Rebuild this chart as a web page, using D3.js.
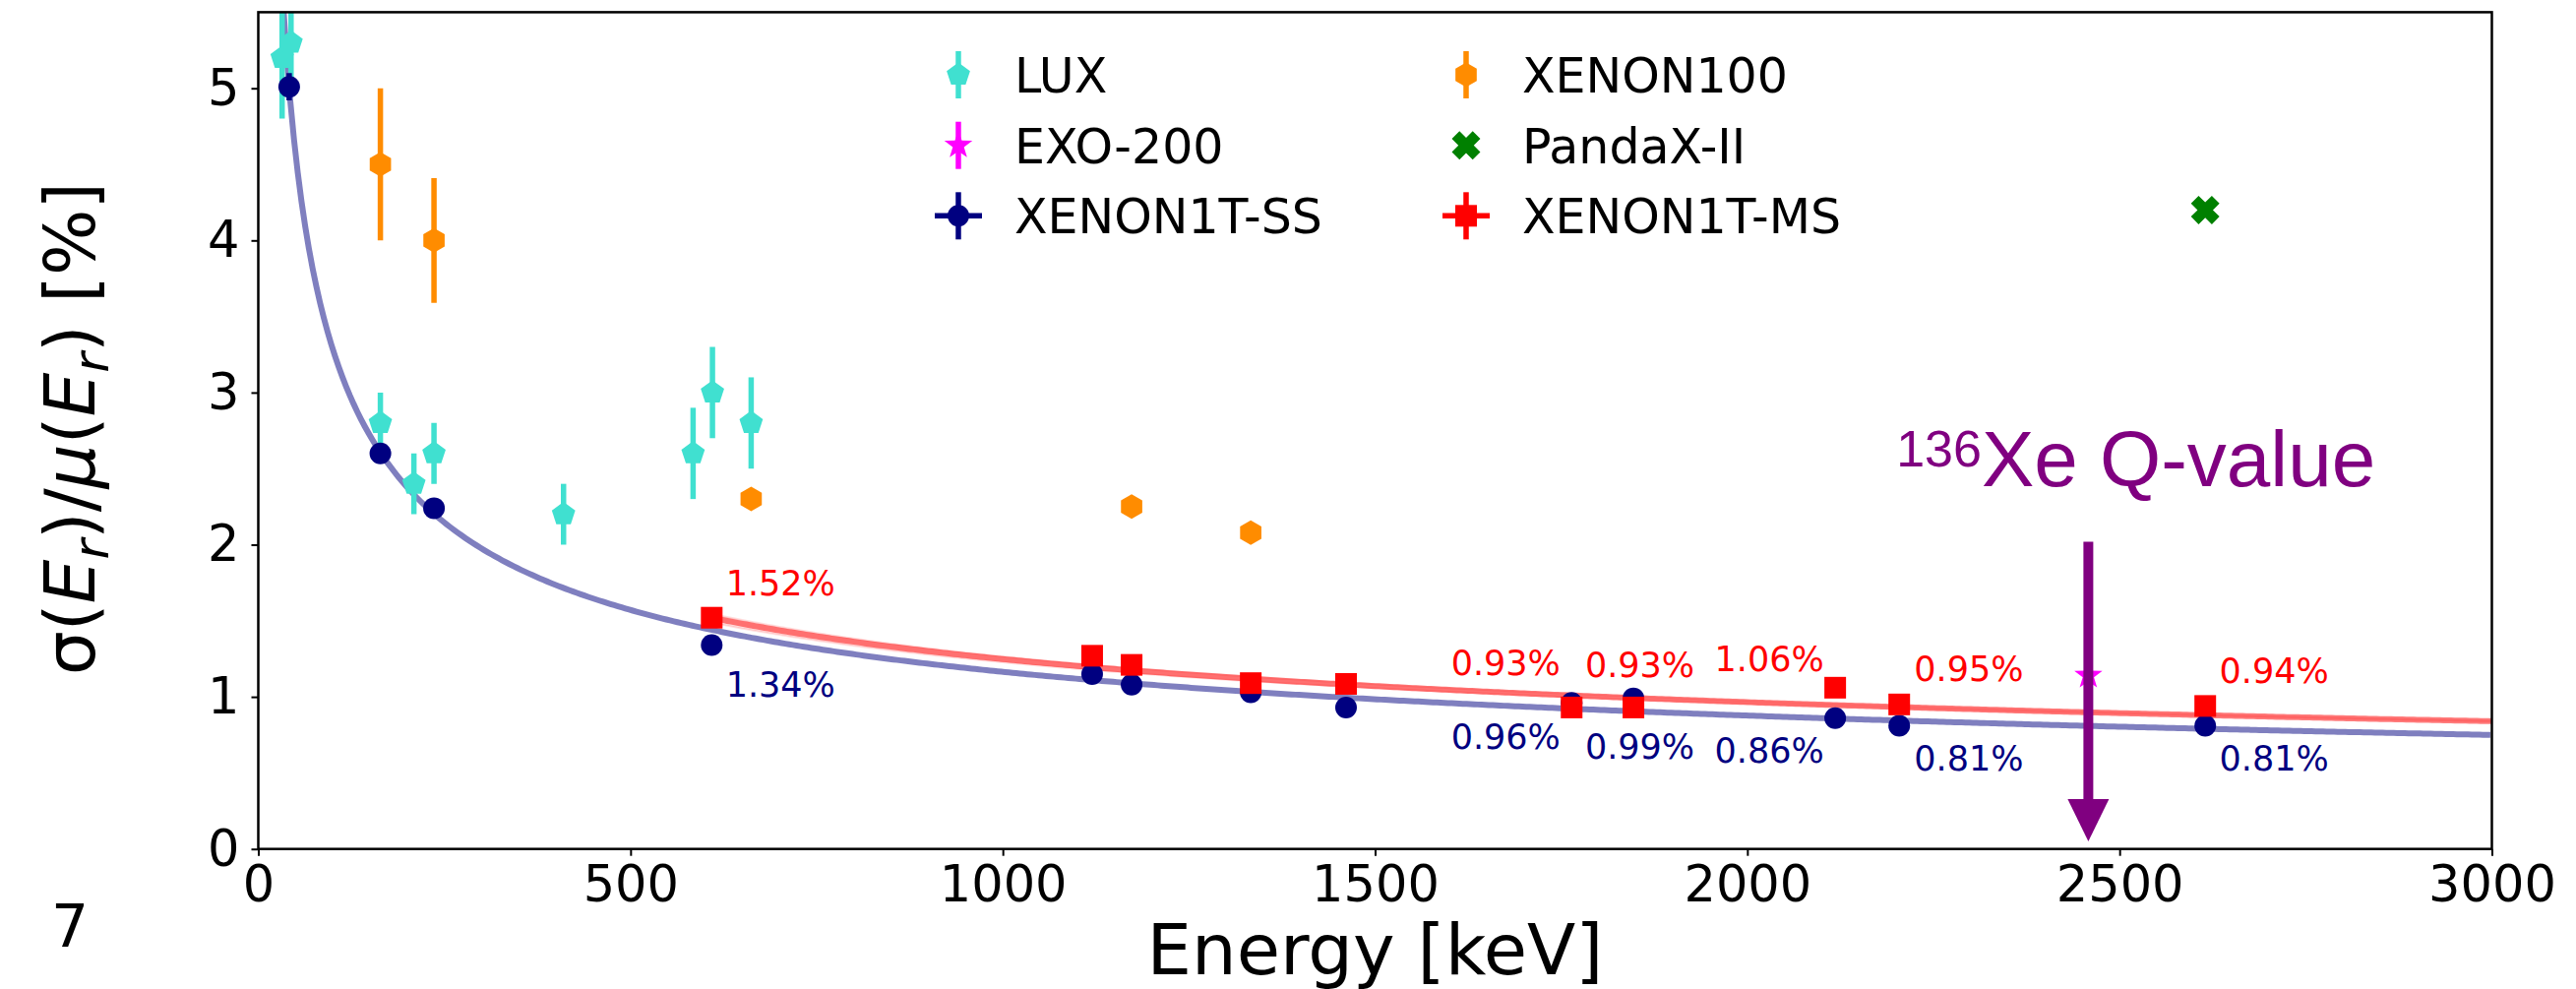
<!DOCTYPE html>
<html>
<head>
<meta charset="utf-8">
<script src="https://cdn.jsdelivr.net/npm/d3@7"></script>
<style>
  body { margin: 0; background: #fff; }
  text { font-family: "DejaVu Sans", sans-serif; }
</style>
</head>
<body>
<script>
// energies in keV, resolution in %
var luxE = [32, 44, 164, 209, 236, 410, 584, 610, 662];
var luxV = [5.2, 5.3, 2.8, 2.4, 2.6, 2.2, 2.6, 3.0, 2.8];
var luxErr = [0.4, 0.3, 0.2, 0.2, 0.2, 0.2, 0.3, 0.3, 0.3];

var x100E = [164, 236, 662, 1173, 1333];
var x100V = [4.5, 4.0, 2.3, 2.25, 2.08];
var x100Err = [0.5, 0.41, 0.02, 0.02, 0.02];

var exoE = [2458];
var exoV = [1.14];
var exoErr = [0.03];

var pandaE = [2615];
var pandaV = [4.2];

var ssE = [41.5, 164, 236, 609, 1120, 1173, 1333, 1461, 1764, 1847, 2118, 2204, 2615];
var ssV = [5.01, 2.60, 2.24, 1.34, 1.15, 1.08, 1.03, 0.93, 0.96, 0.99, 0.86, 0.81, 0.81];
var ssErr = [0.09, 0.02, 0.02, 0.02, 0.01, 0.01, 0.01, 0.01, 0.01, 0.01, 0.01, 0.01, 0.01];

var msE = [609, 1120, 1173, 1333, 1461, 1764, 1847, 2118, 2204, 2615];
var msV = [1.52, 1.27, 1.21, 1.09, 1.085, 0.93, 0.93, 1.06, 0.95, 0.94];

// fits: a/sqrt(E) + b
var fitSS = [31.03, 0.183];
var fitMS = [30.55, 0.282];
var fitMSlo = [29.3, 0.300];
var fitMShi = [31.5, 0.270];

// percentage annotations
var msLabels = ['1.52%', '0.93%', '0.93%', '1.06%', '0.95%', '0.94%'];
var ssLabels = ['1.34%', '0.96%', '0.99%', '0.86%', '0.81%', '0.81%'];
var labelE = [628, 1602, 1782, 1956, 2224, 2634];
var msLabelV = [1.667, 1.140, 1.133, 1.169, 1.102, 1.090];
var ssLabelV = [0.999, 0.658, 0.591, 0.566, 0.513, 0.513];

var qValue = 2458;
var xTicks = [0, 500, 1000, 1500, 2000, 2500, 3000];
var yTicks = [0, 1, 2, 3, 4, 5];

var W = 2618, H = 1005;
var pLeft = 262.5, pRight = 2532.5, pTop = 12.4, pBottom = 862.7;

var x = d3.scaleLinear().domain([0, 3000]).range([pLeft, pRight]);
var y = d3.scaleLinear().domain([0, 5.5]).range([pBottom, pTop]);

var svg = d3.select("body").append("svg")
    .attr("width", W)
    .attr("height", H);

svg.append("rect").attr("width", W).attr("height", H).attr("fill", "#fff");

svg.append("clipPath").attr("id", "plotclip")
  .append("rect")
    .attr("x", pLeft).attr("y", pTop)
    .attr("width", pRight - pLeft).attr("height", pBottom - pTop);

var plot = svg.append("g").attr("clip-path", "url(#plotclip)");

function fitLine(p, e0) {
    return d3.range(e0, 3001, 5).map(function(e) { return [e, p[0] / Math.sqrt(e) + p[1]]; });
}
var line = d3.line().x(function(d) { return x(d[0]); }).y(function(d) { return y(d[1]); });

// MS uncertainty band
var lo = fitLine(fitMSlo, 600), hi = fitLine(fitMShi, 600);
var band = d3.area()
    .x(function(d) { return x(d[0]); })
    .y0(function(d, i) { return y(lo[i][1]); })
    .y1(function(d) { return y(d[1]); });
plot.append("path").datum(hi).attr("d", band)
    .attr("fill", "#ff0000").attr("fill-opacity", 0.12)
    .attr("stroke", "#ff0000").attr("stroke-opacity", 0.12).attr("stroke-width", 2);

plot.append("path").datum(fitLine(fitSS, 28)).attr("d", line)
    .attr("fill", "none").attr("stroke", "#000080").attr("stroke-opacity", 0.5).attr("stroke-width", 6);
plot.append("path").datum(fitLine(fitMS, 600)).attr("d", line)
    .attr("fill", "none").attr("stroke", "#ff0000").attr("stroke-opacity", 0.5).attr("stroke-width", 6);

// marker shapes
function poly(n, r, rot) {
    var p = [];
    for (var i = 0; i < n; i++) {
        var a = rot + i * 2 * Math.PI / n;
        p.push([r * Math.sin(a), -r * Math.cos(a)]);
    }
    return "M" + p.map(function(q) { return q.join(","); }).join("L") + "Z";
}
function star(ro, ri) {
    var p = [];
    for (var i = 0; i < 10; i++) {
        var r = i % 2 ? ri : ro, a = i * Math.PI / 5;
        p.push([r * Math.sin(a), -r * Math.cos(a)]);
    }
    return "M" + p.map(function(q) { return q.join(","); }).join("L") + "Z";
}
function xMark(L, w) {
    var c = [[w, -L], [w, -w], [L, -w], [L, w], [w, w], [w, L], [-w, L], [-w, w], [-L, w], [-L, -w], [-w, -w], [-w, -L]];
    var s = Math.SQRT1_2;
    return "M" + c.map(function(q) { return [(q[0] - q[1]) * s, (q[0] + q[1]) * s].join(","); }).join("L") + "Z";
}
var shapes = {
    pent: poly(5, 12.5, 0),
    hex: poly(6, 12.5, 0),
    star: star(15, 6),
    circ: d3.symbol(d3.symbolCircle, Math.PI * 11 * 11)(),
    sq: d3.symbol(d3.symbolSquare, 22 * 22)(),
    x: xMark(15, 5.5)
};

function series(E, V, err, shape, color) {
    var g = plot.append("g");
    if (err) {
        g.selectAll("line").data(E).enter().append("line")
            .attr("x1", function(d) { return x(d); })
            .attr("x2", function(d) { return x(d); })
            .attr("y1", function(d, i) { return y(V[i] - err[i]); })
            .attr("y2", function(d, i) { return y(V[i] + err[i]); })
            .attr("stroke", color).attr("stroke-width", 5.5);
    }
    g.selectAll("path").data(E).enter().append("path")
        .attr("d", shapes[shape])
        .attr("transform", function(d, i) { return "translate(" + x(d) + "," + y(V[i]) + ")"; })
        .attr("fill", color);
}

series(luxE, luxV, luxErr, "pent", "#40e0d0");
series(x100E, x100V, x100Err, "hex", "#ff8c00");
series(exoE, exoV, exoErr, "star", "#ff00ff");
series(ssE, ssV, ssErr, "circ", "#000080");
series(pandaE, pandaV, null, "x", "#008000");
series(msE, msV, null, "sq", "#ff0000");

// percentage labels
svg.append("g").selectAll("text").data(msLabels).enter().append("text")
    .attr("x", function(d, i) { return x(labelE[i]); })
    .attr("y", function(d, i) { return y(msLabelV[i]); })
    .attr("fill", "#ff0000").style("font-size", "35px").text(function(d) { return d; });
svg.append("g").selectAll("text").data(ssLabels).enter().append("text")
    .attr("x", function(d, i) { return x(labelE[i]); })
    .attr("y", function(d, i) { return y(ssLabelV[i]); })
    .attr("fill", "#000080").style("font-size", "35px").text(function(d) { return d; });

// Q-value arrow
var purple = "#800080";
svg.append("line")
    .attr("x1", x(qValue)).attr("x2", x(qValue))
    .attr("y1", y(2.02)).attr("y2", y(0.05) - 40)
    .attr("stroke", purple).attr("stroke-width", 10);
svg.append("path")
    .attr("d", "M" + (x(qValue) - 21) + "," + (y(0.05) - 43) + "L" + (x(qValue) + 21) + "," + (y(0.05) - 43) + "L" + x(qValue) + "," + y(0.05) + "Z")
    .attr("fill", purple);
var qt = svg.append("text")
    .attr("x", x(2200)).attr("y", y(2.383))
    .attr("fill", purple)
    .style("font-family", "'Liberation Sans', Arial, sans-serif")
    .style("font-size", "80px");
qt.append("tspan").text("136").style("font-size", "52px").attr("dy", "-20");
qt.append("tspan").text("Xe Q-value").attr("dy", "20");

// axes
var xAxis = d3.axisBottom(x).tickValues(xTicks).tickFormat(d3.format("d"))
    .tickSize(7).tickSizeOuter(0).tickPadding(10);
var yAxis = d3.axisLeft(y).tickValues(yTicks).tickFormat(d3.format("d"))
    .tickSize(7).tickSizeOuter(0).tickPadding(12);

var gx = svg.append("g").attr("transform", "translate(0," + pBottom + ")").call(xAxis);
var gy = svg.append("g").attr("transform", "translate(" + pLeft + ",0)").call(yAxis);
[gx, gy].forEach(function(g) {
    g.select(".domain").remove();
    g.selectAll(".tick line").attr("stroke", "#000").attr("stroke-width", 2);
    g.selectAll(".tick text").attr("fill", "#000")
        .style("font-family", "'DejaVu Sans', sans-serif").style("font-size", "51px");
});

svg.append("rect")
    .attr("x", pLeft).attr("y", pTop)
    .attr("width", pRight - pLeft).attr("height", pBottom - pTop)
    .attr("fill", "none").attr("stroke", "#000").attr("stroke-width", 2.5);

// axis labels
svg.append("text")
    .attr("x", (pLeft + pRight) / 2).attr("y", 990)
    .attr("text-anchor", "middle")
    .style("font-size", "72px")
    .text("Energy [keV]");

var yl = svg.append("text")
    .attr("transform", "translate(96," + ((pTop + pBottom) / 2 - 2) + ") rotate(-90)")
    .attr("text-anchor", "middle")
    .style("font-size", "71px");
yl.append("tspan").text("σ(");
yl.append("tspan").text("E").style("font-style", "italic");
yl.append("tspan").text("r").style("font-style", "italic").style("font-size", "50px").attr("dy", 14);
yl.append("tspan").text(")/").attr("dy", -14);
yl.append("tspan").text("μ").style("font-style", "italic");
yl.append("tspan").text("(");
yl.append("tspan").text("E").style("font-style", "italic");
yl.append("tspan").text("r").style("font-style", "italic").style("font-size", "50px").attr("dy", 14);
yl.append("tspan").text(") [%]").attr("dy", -14);

svg.append("text").attr("x", 52).attr("y", 962).style("font-size", "60px").text("7");

// legend
var legNames = ['LUX', 'EXO-200', 'XENON1T-SS', 'XENON100', 'PandaX-II', 'XENON1T-MS'];
var legShapes = ['pent', 'star', 'circ', 'hex', 'x', 'sq'];
var legColors = ['#40e0d0', '#ff00ff', '#000080', '#ff8c00', '#008000', '#ff0000'];
var legV = [true, true, true, true, false, true];
var legH = [false, false, true, false, false, true];
var legColX = [974, 1490];
var legRowY = [76, 147.7, 219.3];

var leg = svg.append("g").selectAll("g").data(legNames).enter().append("g")
    .attr("transform", function(d, i) {
        return "translate(" + legColX[Math.floor(i / 3)] + "," + legRowY[i % 3] + ")";
    });
leg.filter(function(d, i) { return legV[i]; }).append("line")
    .attr("y1", -24).attr("y2", 24)
    .attr("stroke", function(d) { return legColors[legNames.indexOf(d)]; }).attr("stroke-width", 5.5);
leg.filter(function(d, i) { return legH[i]; }).append("line")
    .attr("x1", -24).attr("x2", 24)
    .attr("stroke", function(d) { return legColors[legNames.indexOf(d)]; }).attr("stroke-width", 5.5);
leg.append("path")
    .attr("d", function(d, i) { return shapes[legShapes[i]]; })
    .attr("fill", function(d, i) { return legColors[i]; });
leg.append("text")
    .attr("x", 57).attr("y", 18)
    .style("font-size", "49px")
    .text(function(d) { return d; });
</script>
</body>
</html>
